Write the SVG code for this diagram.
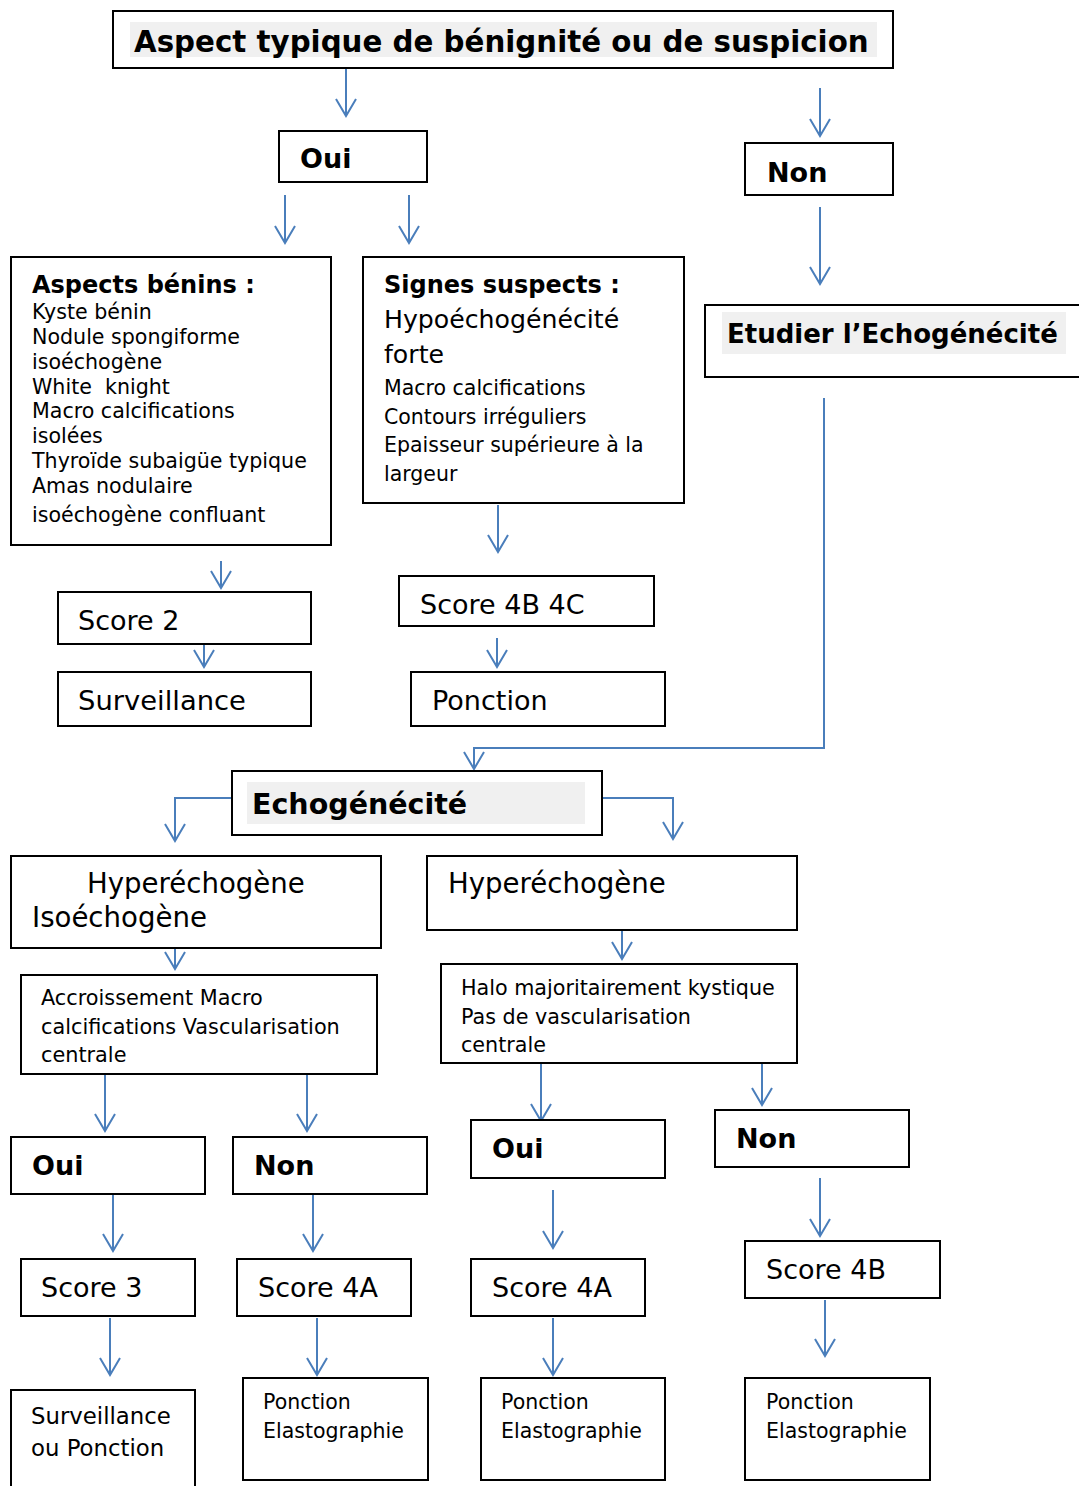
<svg xmlns="http://www.w3.org/2000/svg" width="1079" height="1486" viewBox="0 0 1079 1486">
  <defs>
    <marker id="arrow" viewBox="0 0 20 22" refX="18" refY="11" markerWidth="20" markerHeight="22" markerUnits="userSpaceOnUse" orient="auto">
      <path d="M1,1 L18,11 L1,21" fill="none" stroke="#4a7ebb" stroke-width="2"/>
    </marker>
  </defs>
  <style>
    .box { fill: #ffffff; stroke: #000000; stroke-width: 2; }
    .hl { fill: #f0f0f0; }
    .t { font-family: "DejaVu Sans", Verdana, sans-serif; fill: #000000; }
    .b { font-weight: bold; }
    .c line, .c polyline { stroke: #4a7ebb; stroke-width: 2; fill: none; }
  </style>
  <rect x="0" y="0" width="1079" height="1486" fill="#ffffff"/>

  <!-- connectors -->
  <g class="c" id="connectors">
    <line x1="346" y1="68" x2="346" y2="116" marker-end="url(#arrow)"/>
    <line x1="820" y1="88" x2="820" y2="136" marker-end="url(#arrow)"/>
    <line x1="285" y1="195" x2="285" y2="243" marker-end="url(#arrow)"/>
    <line x1="409" y1="195" x2="409" y2="243" marker-end="url(#arrow)"/>
    <line x1="820" y1="207" x2="820" y2="284" marker-end="url(#arrow)"/>
    <polyline points="824,398 824,748 474,748 474,769" marker-end="url(#arrow)"/>
    <line x1="221" y1="561" x2="221" y2="588" marker-end="url(#arrow)"/>
    <line x1="204" y1="638" x2="204" y2="667" marker-end="url(#arrow)"/>
    <line x1="498" y1="505" x2="498" y2="552" marker-end="url(#arrow)"/>
    <line x1="497" y1="638" x2="497" y2="667" marker-end="url(#arrow)"/>
    <polyline points="232,798 175,798 175,841" marker-end="url(#arrow)"/>
    <polyline points="602,798 673,798 673,839" marker-end="url(#arrow)"/>
    <line x1="175" y1="940" x2="175" y2="969" marker-end="url(#arrow)"/>
    <line x1="622" y1="930" x2="622" y2="959" marker-end="url(#arrow)"/>
    <line x1="105" y1="1074" x2="105" y2="1131" marker-end="url(#arrow)"/>
    <line x1="307" y1="1074" x2="307" y2="1131" marker-end="url(#arrow)"/>
    <line x1="541" y1="1063" x2="541" y2="1121" marker-end="url(#arrow)"/>
    <line x1="762" y1="1063" x2="762" y2="1105" marker-end="url(#arrow)"/>
    <line x1="113" y1="1194" x2="113" y2="1251" marker-end="url(#arrow)"/>
    <line x1="313" y1="1194" x2="313" y2="1251" marker-end="url(#arrow)"/>
    <line x1="553" y1="1190" x2="553" y2="1248" marker-end="url(#arrow)"/>
    <line x1="820" y1="1178" x2="820" y2="1236" marker-end="url(#arrow)"/>
    <line x1="110" y1="1318" x2="110" y2="1375" marker-end="url(#arrow)"/>
    <line x1="317" y1="1318" x2="317" y2="1375" marker-end="url(#arrow)"/>
    <line x1="553" y1="1318" x2="553" y2="1375" marker-end="url(#arrow)"/>
    <line x1="825" y1="1300" x2="825" y2="1356" marker-end="url(#arrow)"/>
  </g>

  <!-- top question -->
  <g id="n-aspect">
    <rect class="box" x="113" y="11" width="780" height="57"/>
    <rect class="hl" x="130" y="22" width="747" height="35"/>
    <text class="t b" x="134" y="52" font-size="29.3">Aspect typique de bénignité ou de suspicion</text>
  </g>

  <g id="n-oui-1">
    <rect class="box" x="279" y="131" width="148" height="51"/>
    <text class="t b" x="300" y="168" font-size="27">Oui</text>
  </g>
  <g id="n-non-1">
    <rect class="box" x="745" y="143" width="148" height="52"/>
    <text class="t b" x="767" y="182" font-size="27">Non</text>
  </g>

  <g id="n-benins">
    <rect class="box" x="11" y="257" width="320" height="288"/>
    <text class="t b" x="32" y="293" font-size="24">Aspects bénins :</text>
    <g class="t" font-size="20.6">
      <text x="32" y="319">Kyste bénin</text>
      <text x="32" y="344">Nodule spongiforme</text>
      <text x="32" y="369">isoéchogène</text>
      <text x="32" y="394" xml:space="preserve">White  knight</text>
      <text x="32" y="418">Macro calcifications</text>
      <text x="32" y="443">isolées</text>
      <text x="32" y="468">Thyroïde subaigüe typique</text>
      <text x="32" y="493">Amas nodulaire</text>
      <text x="32" y="522">isoéchogène confluant</text>
    </g>
  </g>

  <g id="n-suspects">
    <rect class="box" x="363" y="257" width="321" height="246"/>
    <text class="t b" x="384" y="293" font-size="24">Signes suspects :</text>
    <text class="t" x="384" y="328" font-size="25.2">Hypoéchogénécité</text>
    <text class="t" x="384" y="363" font-size="25.2">forte</text>
    <g class="t" font-size="20.5">
      <text x="384" y="395">Macro calcifications</text>
      <text x="384" y="424">Contours irréguliers</text>
      <text x="384" y="452">Epaisseur supérieure à la</text>
      <text x="384" y="481">largeur</text>
    </g>
  </g>

  <g id="n-etudier">
    <rect class="box" x="705" y="305" width="390" height="72"/>
    <rect class="hl" x="722" y="312" width="344" height="42"/>
    <text class="t b" x="727" y="343" font-size="26">Etudier l’Echogénécité</text>
  </g>

  <g id="n-score2">
    <rect class="box" x="58" y="592" width="253" height="52"/>
    <text class="t" x="78" y="630" font-size="27">Score 2</text>
  </g>
  <g id="n-surveillance">
    <rect class="box" x="58" y="672" width="253" height="54"/>
    <text class="t" x="78" y="710" font-size="27.4">Surveillance</text>
  </g>
  <g id="n-score4b4c">
    <rect class="box" x="399" y="576" width="255" height="50"/>
    <text class="t" x="420" y="614" font-size="27">Score 4B 4C</text>
  </g>
  <g id="n-ponction">
    <rect class="box" x="411" y="672" width="254" height="54"/>
    <text class="t" x="432" y="710" font-size="27">Ponction</text>
  </g>

  <g id="n-echo">
    <rect class="box" x="232" y="771" width="370" height="64"/>
    <rect class="hl" x="247" y="782" width="338" height="42"/>
    <text class="t b" x="252" y="814" font-size="28.5">Echogénécité</text>
  </g>

  <g id="n-hyper-iso">
    <rect class="box" x="11" y="856" width="370" height="92"/>
    <text class="t" x="87" y="893" font-size="27.6">Hyperéchogène</text>
    <text class="t" x="32" y="927" font-size="27.6">Isoéchogène</text>
  </g>
  <g id="n-hyper">
    <rect class="box" x="427" y="856" width="370" height="74"/>
    <text class="t" x="448" y="893" font-size="27.6">Hyperéchogène</text>
  </g>

  <g id="n-accroissement">
    <rect class="box" x="21" y="975" width="356" height="99"/>
    <g class="t" font-size="20.8">
      <text x="41" y="1005">Accroissement Macro</text>
      <text x="41" y="1034">calcifications Vascularisation</text>
      <text x="41" y="1062">centrale</text>
    </g>
  </g>
  <g id="n-halo">
    <rect class="box" x="441" y="964" width="356" height="99"/>
    <g class="t" font-size="20.7">
      <text x="461" y="995">Halo majoritairement kystique</text>
      <text x="461" y="1024">Pas de vascularisation</text>
      <text x="461" y="1052">centrale</text>
    </g>
  </g>

  <g id="n-oui-2">
    <rect class="box" x="11" y="1137" width="194" height="57"/>
    <text class="t b" x="32" y="1175" font-size="27">Oui</text>
  </g>
  <g id="n-non-2">
    <rect class="box" x="233" y="1137" width="194" height="57"/>
    <text class="t b" x="254" y="1175" font-size="27">Non</text>
  </g>
  <g id="n-oui-3">
    <rect class="box" x="471" y="1120" width="194" height="58"/>
    <text class="t b" x="492" y="1158" font-size="27">Oui</text>
  </g>
  <g id="n-non-3">
    <rect class="box" x="715" y="1110" width="194" height="57"/>
    <text class="t b" x="736" y="1148" font-size="27">Non</text>
  </g>

  <g id="n-score3">
    <rect class="box" x="21" y="1259" width="174" height="57"/>
    <text class="t" x="41" y="1297" font-size="27">Score 3</text>
  </g>
  <g id="n-score4a-1">
    <rect class="box" x="237" y="1259" width="174" height="57"/>
    <text class="t" x="258" y="1297" font-size="27">Score 4A</text>
  </g>
  <g id="n-score4a-2">
    <rect class="box" x="471" y="1259" width="174" height="57"/>
    <text class="t" x="492" y="1297" font-size="27">Score 4A</text>
  </g>
  <g id="n-score4b">
    <rect class="box" x="745" y="1241" width="195" height="57"/>
    <text class="t" x="766" y="1279" font-size="27">Score 4B</text>
  </g>

  <g id="n-surv-ponction">
    <rect class="box" x="11" y="1390" width="184" height="110"/>
    <text class="t" x="31" y="1424" font-size="22.8">Surveillance</text>
    <text class="t" x="31" y="1456" font-size="22.8">ou Ponction</text>
  </g>
  <g id="n-elasto-1">
    <rect class="box" x="243" y="1378" width="185" height="102"/>
    <text class="t" x="263" y="1409" font-size="20.5">Ponction</text>
    <text class="t" x="263" y="1438" font-size="20.5">Elastographie</text>
  </g>
  <g id="n-elasto-2">
    <rect class="box" x="481" y="1378" width="184" height="102"/>
    <text class="t" x="501" y="1409" font-size="20.5">Ponction</text>
    <text class="t" x="501" y="1438" font-size="20.5">Elastographie</text>
  </g>
  <g id="n-elasto-3">
    <rect class="box" x="745" y="1378" width="185" height="102"/>
    <text class="t" x="766" y="1409" font-size="20.5">Ponction</text>
    <text class="t" x="766" y="1438" font-size="20.5">Elastographie</text>
  </g>
</svg>
